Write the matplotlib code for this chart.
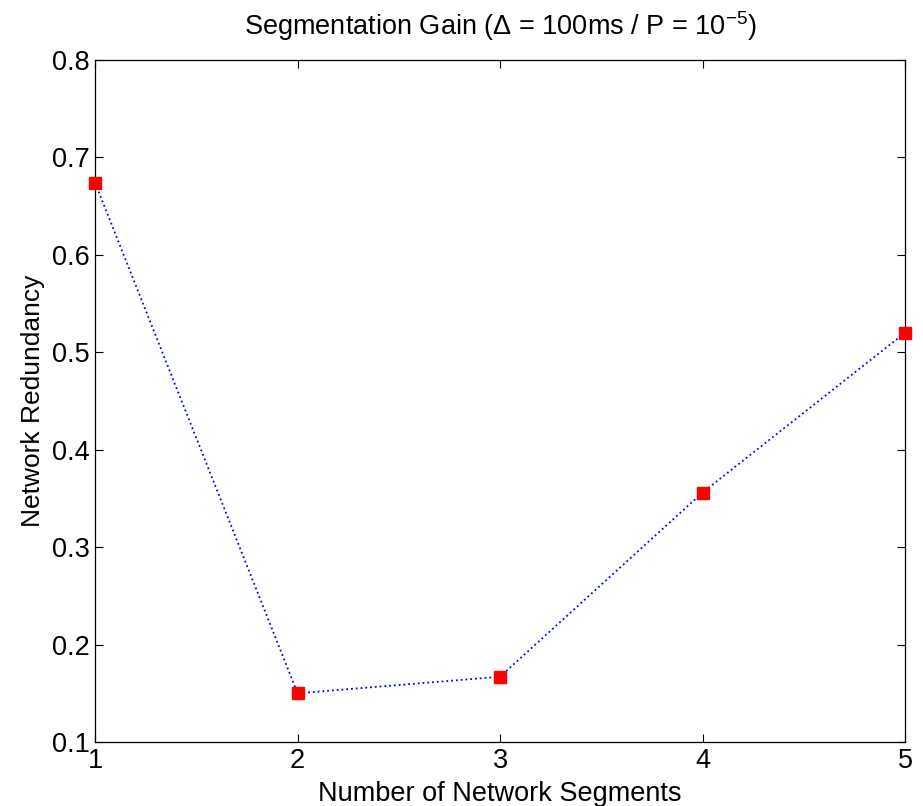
import matplotlib
matplotlib.use("Agg")
import matplotlib.pyplot as plt

plt.rcParams["font.family"] = ["Liberation Sans", "DejaVu Sans"]
plt.rcParams["mathtext.fontset"] = "custom"
plt.rcParams["mathtext.rm"] = "Liberation Sans"
plt.rcParams["mathtext.it"] = "Liberation Sans"

# data
segments = [1, 2, 3, 4, 5]
redundancy = [0.674, 0.150, 0.167, 0.356, 0.520]
xticks = [1, 2, 3, 4, 5]
yticks = [0.1, 0.2, 0.3, 0.4, 0.5, 0.6, 0.7, 0.8]

fig = plt.figure(figsize=(9.23, 8.06), dpi=100)
ax = fig.add_axes([0.103, 0.0794, 0.8775, 0.8462])

ax.plot(segments, redundancy, color="#0000FF", ls=":", lw=1.3, zorder=2)
ax.plot(segments, redundancy, ls="none", marker="s", ms=9,
        color="#FF0000", mec="#FF0000", zorder=3, clip_on=False)

ax.set_xlim(1, 5)
ax.set_ylim(0.1, 0.8)
ax.set_xticks(xticks)
ax.set_yticks(yticks)
ax.set_yticklabels([f"{v:g}" for v in yticks])
ax.tick_params(direction="in", length=6, width=0.8, labelsize=19.5,
               top=True, right=True, pad=4)
for s in ax.spines.values():
    s.set_linewidth(0.9)

ax.set_xlabel("Number of Network Segments", fontsize=19.5, labelpad=5)
ax.set_ylabel("Network Redundancy", fontsize=19, labelpad=5)
ax.set_title(r"Segmentation Gain ($\Delta$ = 100ms / P = 10$^{-5}$)",
             fontsize=19.5, pad=18)

fig.savefig("out.png", dpi=100, facecolor="white")
